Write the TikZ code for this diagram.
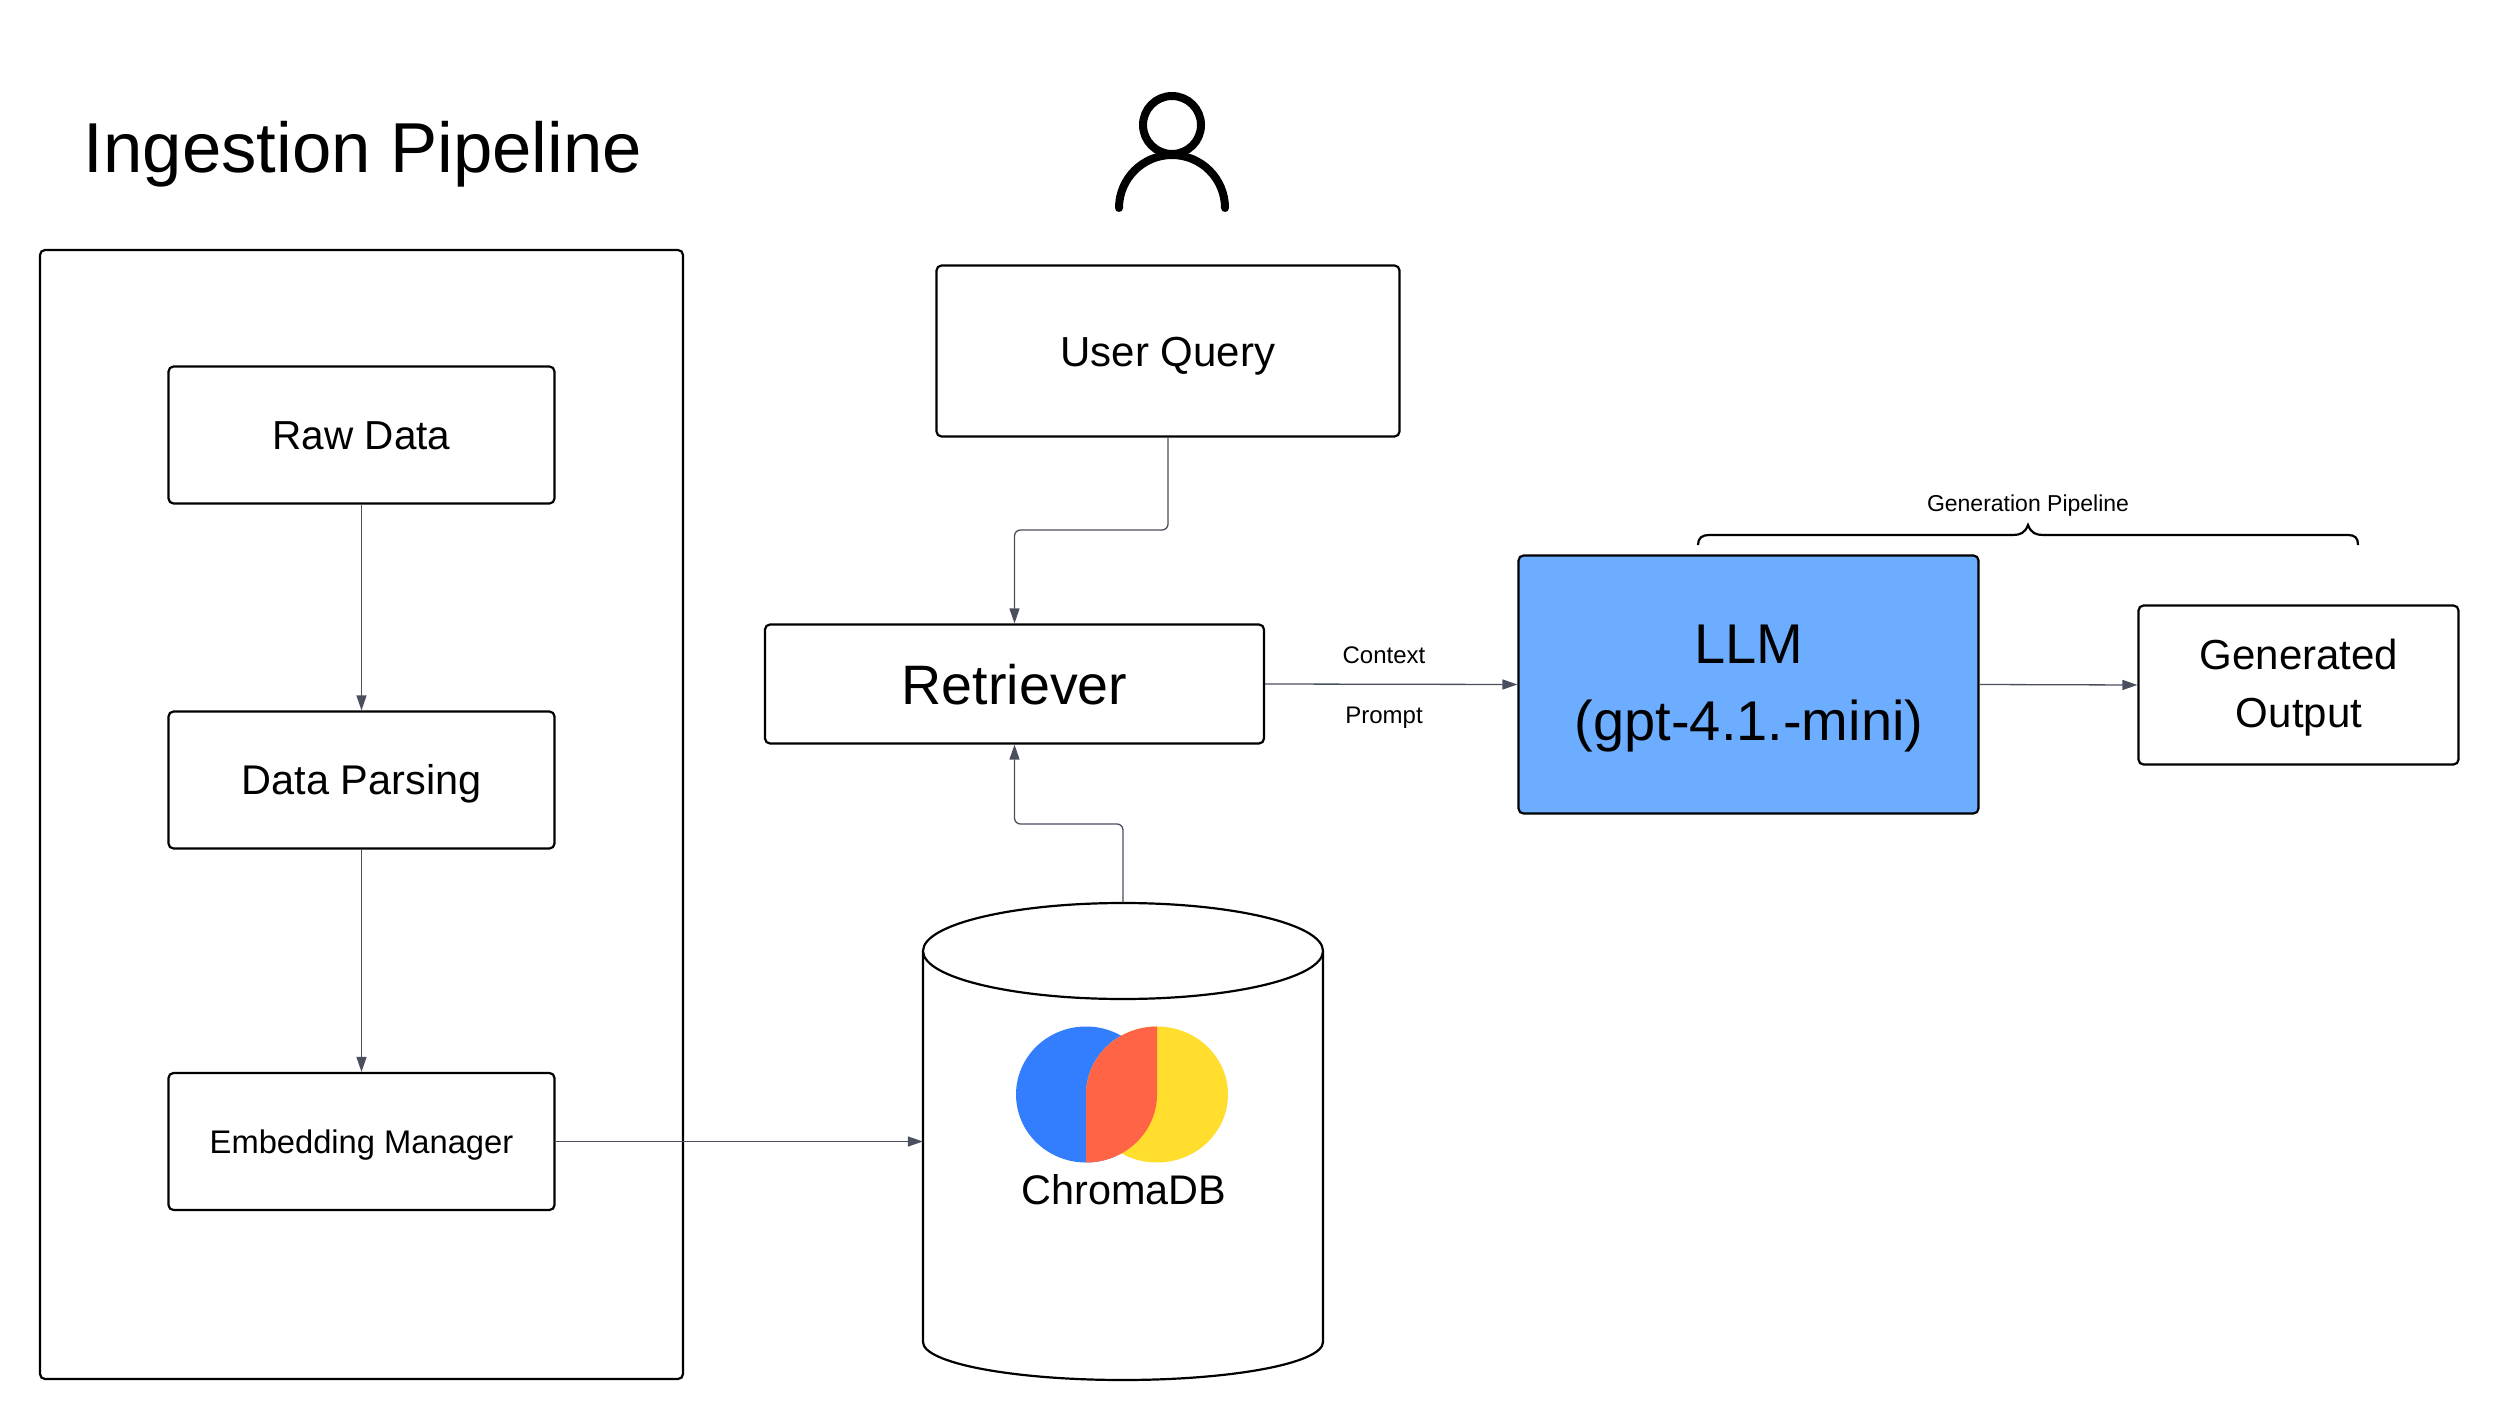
\documentclass[tikz,border=0pt]{standalone}
\usepackage{fontspec}
\setmainfont{Liberation Sans}
\usetikzlibrary{arrows.meta,positioning}
\definecolor{linec}{HTML}{4A4F5E}
\definecolor{llmblue}{HTML}{6CADFF}
\definecolor{cblue}{HTML}{327EFF}
\definecolor{cred}{HTML}{FF6446}
\definecolor{cyellow}{HTML}{FFDE2D}
\newcommand{\fs}[1]{\fontsize{#1}{#1}\selectfont\rule[-0.28em]{0pt}{1.28em}}
\tikzset{
  box/.style={draw=black,line width=2.2pt,rounded corners=5pt,fill=white,align=center,inner sep=0pt,text=black},
  conn/.style={draw=linec,line width=1.3pt,rounded corners=6pt,-{Triangle[length=15pt,width=10pt,fill=linec]}},
  lbl/.style={inner sep=0pt,text=black},
  shp/.style={draw=black,line width=2.2pt}
}
\begin{document}
\begin{tikzpicture}[x=1pt,y=-1pt]
\useasboundingbox (0,0) rectangle (2498,1420);
\node[box,minimum width=643pt,minimum height=1129pt] (ingest) at (361.5,814.5) {};
\node[lbl] (title) at (363,147) {\fs{70.7}Ingestion Pipeline};
\node[box,minimum width=386pt,minimum height=137pt] (raw) at (361.5,435) {\fs{40.5}Raw Data};
\node[box,minimum width=386pt,minimum height=137pt] (parse) at (361.5,780) {\fs{41.5}Data Parsing};
\node[box,minimum width=386pt,minimum height=137pt] (embed) at (361.5,1141.5) {\fs{32.7}Embedding Manager};
\node[box,minimum width=463pt,minimum height=171pt] (query) at (1168,351) {\fs{42}User Query};
\node[box,minimum width=499pt,minimum height=119pt] (retr) at (1014.5,684) {\fs{55.6}Retriever};
\node[box,fill=llmblue,minimum width=460pt,minimum height=258pt] (llm) at (1748.5,684.5) {};
\node[lbl] (llmA) at (1749,643) {\fs{56}LLM};
\node[lbl] (llmB) at (1749,720) {\fs{56}(gpt-4.1.-mini)};
\node[box,minimum width=320pt,minimum height=159pt] (gen) at (2298.5,685) {};
\node[lbl] (genA) at (2299,654) {\fs{42}Generated};
\node[lbl] (genB) at (2299,712) {\fs{42}Output};
% database
\node[minimum width=400pt,minimum height=477pt,inner sep=0pt] (db) at (1123,1141) {};
\draw[shp,fill=white] (923,951) -- (923,1342) arc[start angle=180,end angle=0,x radius=200,y radius=38] -- (1323,951);
\draw[shp,fill=white] (1123,951) ellipse[x radius=200,y radius=48];
% logo
\fill[cblue] (1086,1094.5) ellipse[x radius=70,y radius=68];
\fill[cyellow] (1157,1094.5) ellipse[x radius=71,y radius=68];
\fill[cred] (1157,1026.5) arc[start angle=-90,end angle=-180,x radius=71,y radius=68] -- (1086,1162.5) arc[start angle=90,end angle=0,x radius=71,y radius=68] -- cycle;
\node[lbl] (chroma) at (1124,1190) {\fs{41.4}ChromaDB};
% person
\draw[black,line width=8pt] (1172,125) circle[radius=29];
\draw[black,line width=8pt,line cap=round] (1119,208) arc[start angle=180,end angle=360,radius=53];
% brace
\draw[black,line width=2.2pt] (1698,545) .. controls (1698,538) and (1702,535) .. (1709,535) -- (2013,535) .. controls (2020,535) and (2025,533) .. (2028,525) .. controls (2031,533) and (2036,535) .. (2043,535) -- (2348,535) .. controls (2355,535) and (2358,538) .. (2358,545);
\node[lbl] (genlabel) at (2028,503) {\fs{23}Generation Pipeline};
\node[lbl] (ctx) at (1384,655) {\fs{24}Context};
\node[lbl] (prm) at (1384,715) {\fs{24}Prompt};
% connectors
\draw[conn] (raw.south) -- (parse.north);
\draw[conn] (parse.south) -- (embed.north);
\draw[conn] (embed.east) -- (db.west |- embed.east);
\draw[conn] (query.south) |- (1014.5,530) -- (retr.north);
\draw[conn] (db.north) |- (1014.5,824) -- (retr.south);
\draw[conn] (retr.east) -- (llm.west);
\draw[conn] (llm.east) -- (gen.west);
\end{tikzpicture}
\end{document}
